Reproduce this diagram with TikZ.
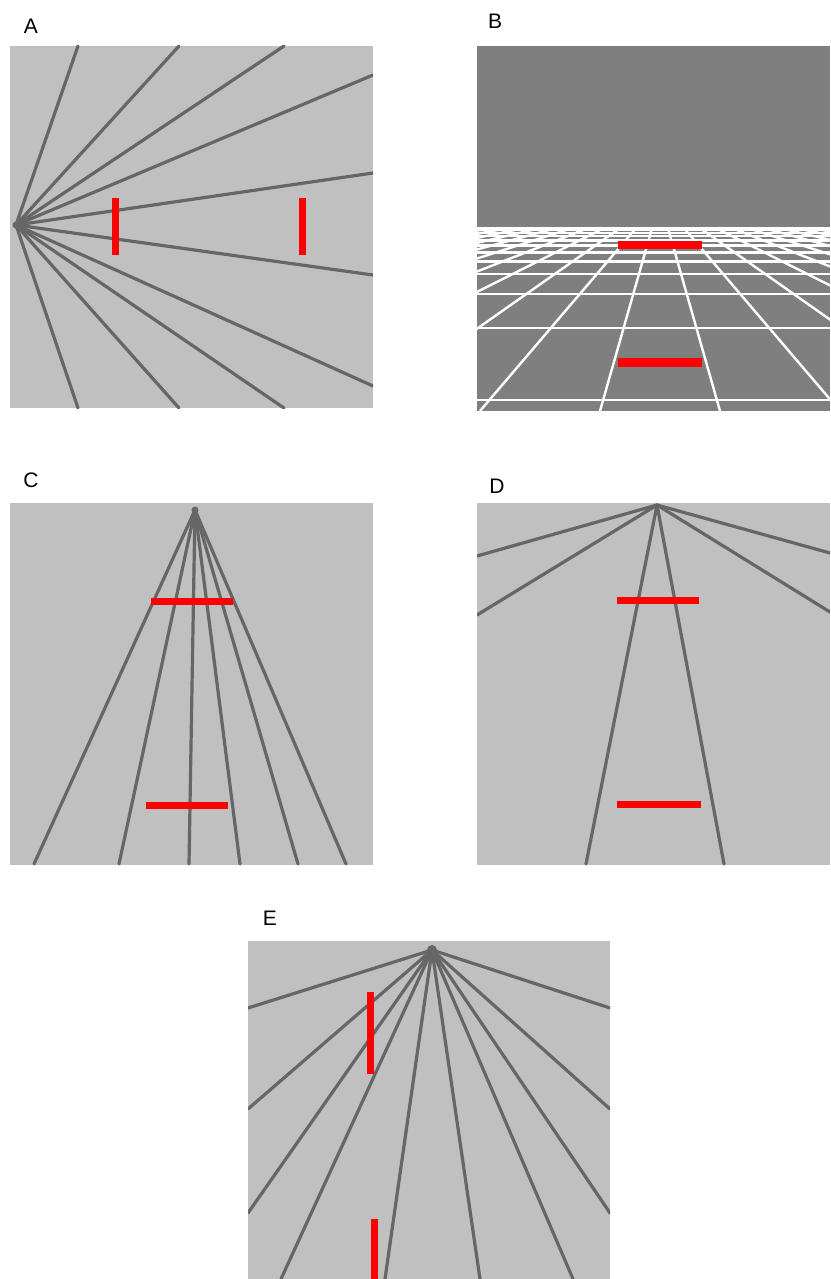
\documentclass[tikz,border=0pt]{standalone}
\usepackage{fontspec}
\setmainfont{Liberation Sans}
\definecolor{panelbg}{HTML}{C0C0C0}
\definecolor{raycol}{HTML}{666666}
\definecolor{skycol}{HTML}{7F7F7F}
\definecolor{barred}{HTML}{FF0000}
\begin{document}
\begin{tikzpicture}[x=1pt,y=-1pt,
  ray/.style={draw=raycol, line width=3.2pt, line cap=round},
  gridline/.style={draw=white, line width=2.4pt},
  redbar/.style={fill=barred},
  panel/.style={fill=panelbg},
  apexdot/.style={fill=raycol},
  lab/.style={font=\fontsize{21}{25}\selectfont, inner sep=0pt, text=black}]
\useasboundingbox (0,0) rectangle (830,1279);
\fill[white] (0,0) rectangle (830,1279);

% ---------------- Panel A ----------------
\node[lab] (labA) at (31,26) {A};
\fill[panel] (10,46) rectangle (373,408);
\coordinate (vA) at (16,225);
\begin{scope}
  \clip (10,46) rectangle (373,408);
  \foreach \p in {(78,46),(179,46),(284,46),(373,75),(373,173),(373,275),(373,386),(284,408),(179,408),(78,408)}
    \draw[ray] (vA) -- \p;
  \fill[apexdot] (vA) circle (3.5);
\end{scope}
\fill[redbar] (112,198) rectangle (119,255);
\fill[redbar] (299,198) rectangle (306,255);

% ---------------- Panel B ----------------
\node[lab] (labB) at (495,21) {B};
\fill[skycol] (477,46) rectangle (830,411);
\coordinate (vB) at (660,200);
\begin{scope}
  \clip (477,227) rectangle (830,411);
  \foreach \k in {-12.5,-11.5,...,12.5}
    \draw[gridline] (vB) -- ({660+120*\k},411);
  \foreach \n in {0,...,11}
    \draw[gridline] (477,{200+1/(0.005+0.00283*\n)}) -- (830,{200+1/(0.005+0.00283*\n)});
\end{scope}
\fill[redbar] (618,241) rectangle (702,249);
\fill[redbar] (618,358) rectangle (702,367);

% ---------------- Panel C ----------------
\node[lab] (labC) at (31,480) {C};
\fill[panel] (10,503) rectangle (373,865);
\coordinate (vC) at (195,510);
\begin{scope}
  \clip (10,503) rectangle (373,865);
  \foreach \xx in {34,119,189,240,298,346}
    \draw[ray] (vC) -- (\xx,864);
  \fill[apexdot] (vC) circle (3.5);
\end{scope}
\fill[redbar] (151,598) rectangle (233,605);
\fill[redbar] (146,802) rectangle (228,809);

% ---------------- Panel D ----------------
\node[lab] (labD) at (497,486) {D};
\fill[panel] (477,503) rectangle (830,865);
\coordinate (vD) at (657,505);
\begin{scope}
  \clip (477,503) rectangle (830,865);
  \foreach \p in {(477,556),(477,615),(586,864),(724,864),(830,553),(830,612)}
    \draw[ray] (vD) -- \p;
\end{scope}
\fill[redbar] (617,597) rectangle (699,604);
\fill[redbar] (617,801) rectangle (701,808);

% ---------------- Panel E ----------------
\node[lab] (labE) at (270,918) {E};
\fill[panel] (248,941) rectangle (610,1279);
\coordinate (vE) at (432,950);
\begin{scope}
  \clip (248,941) rectangle (610,1279);
  \foreach \p in {(248,1008),(248,1109),(248,1213),(281,1279),(385,1279),(480,1279),(573,1279),(610,1008),(610,1109),(610,1213)}
    \draw[ray] (vE) -- \p;
  \fill[apexdot] (vE) circle (5);
\end{scope}
\fill[redbar] (367,992) rectangle (374,1074);
\fill[redbar] (371,1219) rectangle (378,1279);
\end{tikzpicture}
\end{document}
